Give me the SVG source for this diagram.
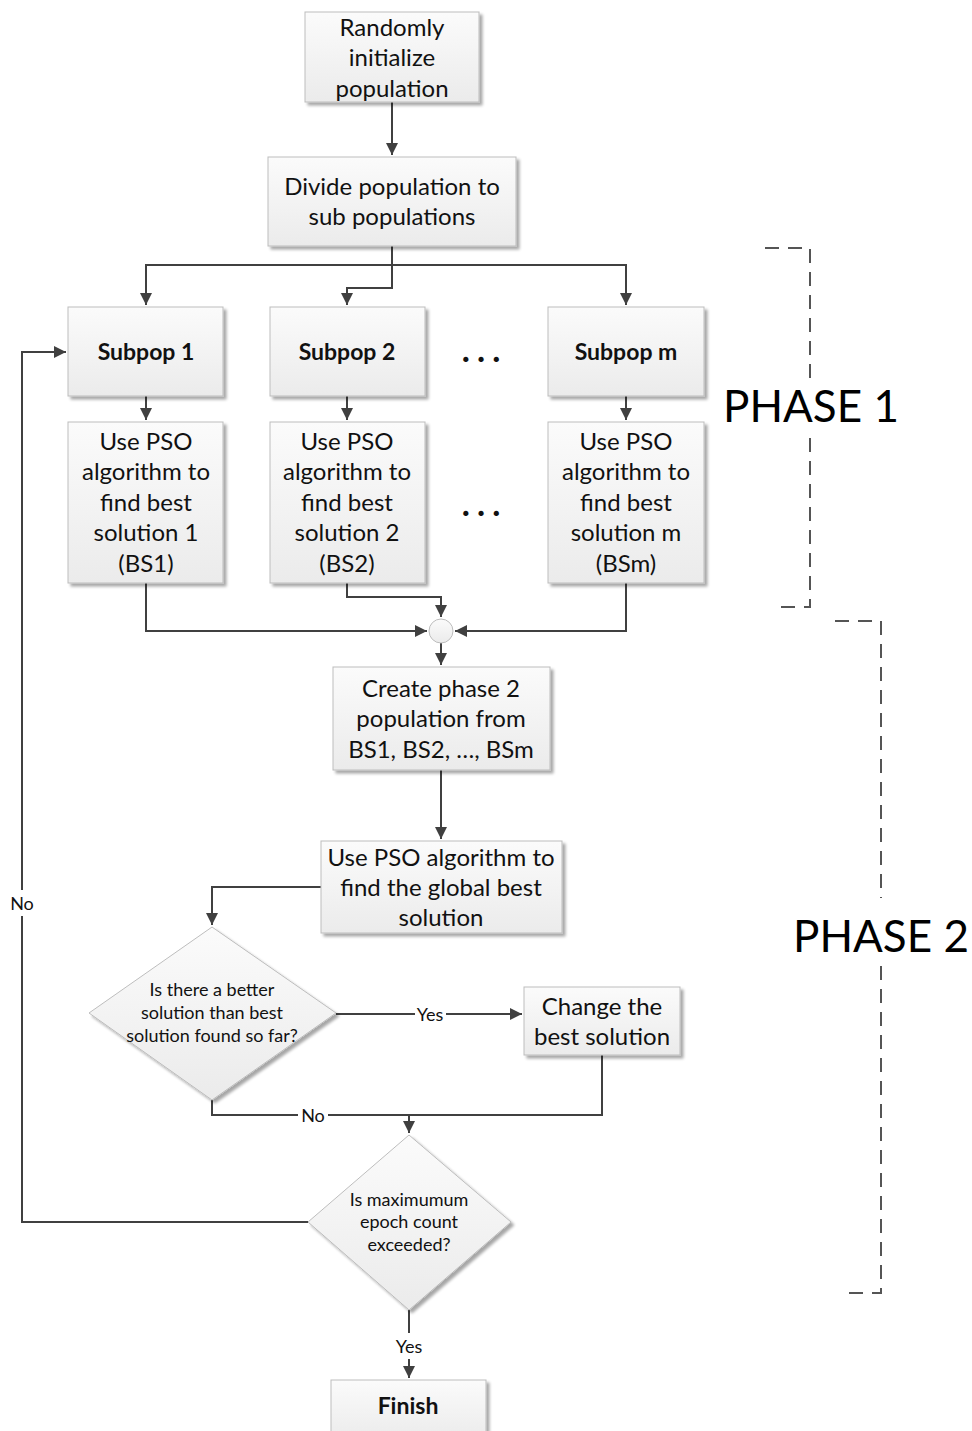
<svg xmlns="http://www.w3.org/2000/svg" width="972" height="1431" viewBox="0 0 972 1431">
<defs>
<linearGradient id="g" x1="0" y1="0" x2="0" y2="1">
<stop offset="0" stop-color="#fbfbfb"/>
<stop offset="1" stop-color="#ebebeb"/>
</linearGradient>
<filter id="sh" x="-10%" y="-10%" width="130%" height="130%">
<feGaussianBlur in="SourceAlpha" stdDeviation="1.5"/>
<feOffset dx="3" dy="3" result="b"/>
<feComponentTransfer><feFuncA type="linear" slope="0.35"/></feComponentTransfer>
<feMerge><feMergeNode/><feMergeNode in="SourceGraphic"/></feMerge>
</filter>
<marker id="ah" viewBox="0 0 10 10" refX="10" refY="5" markerWidth="12" markerHeight="12" markerUnits="userSpaceOnUse" orient="auto">
<path d="M0,0 L10,5 L0,10 z" fill="#404040"/>
</marker>
</defs>
<style>
.box{fill:url(#g);stroke:#bdbdbd;stroke-width:1;filter:url(#sh)}
.t{font-family:Lato,"Open Sans",sans-serif;font-size:24px;fill:#111;text-anchor:middle;dominant-baseline:central}
.b{font-weight:bold;font-size:23px}
.s{font-size:18px}
.dt{font-family:Lato,"Open Sans",sans-serif;font-size:32px;font-weight:900;fill:#111;text-anchor:middle}
.c{fill:none;stroke:#404040;stroke-width:2}
.d{fill:none;stroke:#555;stroke-width:2;stroke-dasharray:14 9}
.ph{font-family:Lato,"Open Sans",sans-serif;font-size:44px;fill:#000;text-anchor:middle;dominant-baseline:central}
.lb{font-family:Lato,"Open Sans",sans-serif;font-size:18px;fill:#111;text-anchor:middle;dominant-baseline:central}
</style>
<rect width="972" height="1431" fill="#fff"/>

<g id="connectors">
<path class="c" d="M392,102 V155" marker-end="url(#ah)"/>
<path class="c" d="M392,246 V265 H146 V305" marker-end="url(#ah)"/>
<path class="c" d="M392,265 H626 V305" marker-end="url(#ah)"/>
<path class="c" d="M392,265 V288 H347 V305" marker-end="url(#ah)"/>
<path class="c" d="M146,396 V420" marker-end="url(#ah)"/>
<path class="c" d="M347,396 V420" marker-end="url(#ah)"/>
<path class="c" d="M626,396 V420" marker-end="url(#ah)"/>
<path class="c" d="M146,583 V631 H427" marker-end="url(#ah)"/>
<path class="c" d="M347,583 V597 H441 V617" marker-end="url(#ah)"/>
<path class="c" d="M626,583 V631 H455" marker-end="url(#ah)"/>
<path class="c" d="M441,643 V665" marker-end="url(#ah)"/>
<path class="c" d="M441,770 V839" marker-end="url(#ah)"/>
<path class="c" d="M321,887 H212 V925" marker-end="url(#ah)"/>
<path class="c" d="M336,1014 H415 M446,1014 H522" marker-end="url(#ah)"/>
<path class="c" d="M602,1055 V1115 H409"/>
<path class="c" d="M212,1100 V1115 H298 M328,1115 H409 V1133" marker-end="url(#ah)"/>
<path class="c" d="M308,1222 H22 V916 M22,890 V352 H66" marker-end="url(#ah)"/>
<path class="c" d="M409,1310 V1333 M409,1359 V1378" marker-end="url(#ah)"/>
<text class="lb" x="430" y="1014">Yes</text>
<text class="lb" x="313" y="1115">No</text>
<text class="lb" x="22" y="903">No</text>
<text class="lb" x="409" y="1346">Yes</text>
</g>

<g id="n1"><rect class="box" x="305" y="12" width="174" height="90"/>
<text class="t" x="392" y="26">Randomly</text><text class="t" x="392" y="56">initialize</text><text class="t" x="392" y="87">population</text></g>

<g id="n2"><rect class="box" x="268" y="157" width="248" height="89"/>
<text class="t" x="392" y="185">Divide population to</text><text class="t" x="392" y="215">sub populations</text></g>

<g id="sp1"><rect class="box" x="68" y="307" width="155" height="89"/><text class="t b" x="146" y="351">Subpop 1</text></g>
<g id="sp2"><rect class="box" x="270" y="307" width="155" height="89"/><text class="t b" x="347" y="351">Subpop 2</text></g>
<g id="spm"><rect class="box" x="548" y="307" width="156" height="89"/><text class="t b" x="626" y="351">Subpop m</text></g>
<g id="dots1"><text class="dt" x="481" y="362">. . .</text></g>

<g id="pso1"><rect class="box" x="68" y="422" width="155" height="161"/>
<text class="t" x="146" y="440">Use PSO</text><text class="t" x="146" y="470">algorithm to</text><text class="t" x="146" y="501">find best</text><text class="t" x="146" y="531">solution 1</text><text class="t" x="146" y="562">(BS1)</text></g>
<g id="pso2"><rect class="box" x="270" y="422" width="155" height="161"/>
<text class="t" x="347" y="440">Use PSO</text><text class="t" x="347" y="470">algorithm to</text><text class="t" x="347" y="501">find best</text><text class="t" x="347" y="531">solution 2</text><text class="t" x="347" y="562">(BS2)</text></g>
<g id="psom"><rect class="box" x="548" y="422" width="156" height="161"/>
<text class="t" x="626" y="440">Use PSO</text><text class="t" x="626" y="470">algorithm to</text><text class="t" x="626" y="501">find best</text><text class="t" x="626" y="531">solution m</text><text class="t" x="626" y="562">(BSm)</text></g>
<g id="dots2"><text class="dt" x="481" y="516">. . .</text></g>

<g id="merge"><circle cx="441" cy="631" r="12" fill="url(#g)" stroke="#bdbdbd" stroke-width="1"/></g>

<g id="create"><rect class="box" x="333" y="667" width="217" height="103"/>
<text class="t" x="441" y="687">Create phase 2</text><text class="t" x="441" y="717">population from</text><text class="t" x="441" y="748">BS1, BS2, …, BSm</text></g>

<g id="global"><rect class="box" x="321" y="841" width="241" height="92"/>
<text class="t" x="441" y="856">Use PSO algorithm to</text><text class="t" x="441" y="886">find the global best</text><text class="t" x="441" y="916">solution</text></g>

<g id="dec1"><polygon class="box" points="212,927 336,1013 212,1100 89,1013"/>
<text class="t s" x="212" y="989">Is there a better</text><text class="t s" x="212" y="1012">solution than best</text><text class="t s" x="212" y="1035">solution found so far?</text></g>

<g id="change"><rect class="box" x="524" y="987" width="156" height="68"/>
<text class="t" x="602" y="1005">Change the</text><text class="t" x="602" y="1035">best solution</text></g>

<g id="dec2"><polygon class="box" points="409,1135 511,1222 409,1310 308,1222"/>
<text class="t s" x="409" y="1199">Is maximumum</text><text class="t s" x="409" y="1221">epoch count</text><text class="t s" x="409" y="1244">exceeded?</text></g>

<g id="finish"><rect class="box" x="331" y="1380" width="155" height="60"/><text class="t b" x="408" y="1405">Finish</text></g>

<g id="phase1">
<path class="d" d="M765,248 H810 V382 M810,438 V607 H778"/>
<text class="ph" x="811" y="405">PHASE 1</text>
</g>
<g id="phase2">
<path class="d" d="M835,621 H881 V898 M881,966 V1293 H848"/>
<text class="ph" x="881" y="935">PHASE 2</text>
</g>
</svg>
